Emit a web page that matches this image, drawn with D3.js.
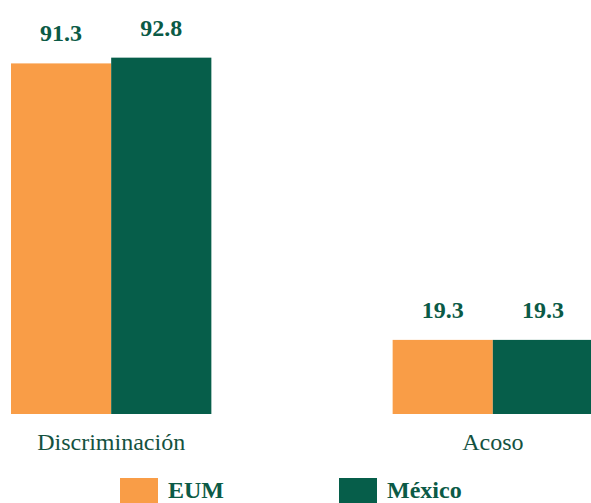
<!DOCTYPE html>
<html>
  <head>
    <meta charset="utf-8">
    <style>
    body { margin: 0; background: #fff; }
    </style>
    <script src="https://d3js.org/d3.v7.min.js"></script>
  </head>
  <body>
    <svg></svg>
    <script>
      var categories = ["Discriminación", "Acoso"];
      var seriesNames = ["EUM", "México"];
      var eumValues = [91.3, 19.3];
      var mexicoValues = [92.8, 19.3];
      var colors = ["#F99D47", "#065E4A"];

      var serif = "'Liberation Serif', 'Times New Roman', Times, serif";
      var width = 591, height = 503;
      var svg = d3.select("svg").attr("width", width).attr("height", height);

      var data = categories.map(function(c, i) {
        return { cat: c, values: [eumValues[i], mexicoValues[i]] };
      });

      var x0 = d3.scaleBand().domain(categories).range([11, 593]).paddingInner(0.475).paddingOuter(0);
      var x1 = d3.scaleBand().domain(seriesNames).range([0, x0.bandwidth()]);
      var y = d3.scaleLinear().domain([0, 100]).range([414, 30]);

      var groups = svg.selectAll("g.grp")
        .data(data)
        .enter().append("g")
          .attr("class", "grp")
          .attr("transform", function(d) { return "translate(" + x0(d.cat) + ",0)"; });

      groups.selectAll("rect")
        .data(function(d) { return d.values.map(function(v, i) { return { name: seriesNames[i], v: v, i: i }; }); })
        .enter().append("rect")
          .attr("x", function(d) { return x1(d.name); })
          .attr("y", function(d) { return y(d.v); })
          .attr("width", x1.bandwidth())
          .attr("height", function(d) { return y(0) - y(d.v); })
          .attr("fill", function(d) { return colors[d.i]; });

      groups.selectAll("text.val")
        .data(function(d) { return d.values.map(function(v, i) { return { name: seriesNames[i], v: v }; }); })
        .enter().append("text")
          .attr("class", "val")
          .attr("x", function(d) { return x1(d.name) + x1.bandwidth() / 2; })
          .attr("y", function(d) { return y(d.v) - 22; })
          .attr("text-anchor", "middle")
          .style("font-family", serif)
          .style("font-size", "24px")
          .style("font-weight", "bold")
          .attr("fill", "#0B5A46")
          .text(function(d) { return d.v.toFixed(1); });

      // category labels
      var xAxis = d3.axisBottom(x0).tickSize(0).tickPadding(0);
      var ax = svg.append("g").attr("transform", "translate(0,433)").call(xAxis);
      ax.select(".domain").remove();
      ax.attr("font-family", null).attr("font-size", null);
      ax.selectAll("text")
        .style("font-family", serif)
        .style("font-size", "24px")
        .attr("fill", "#14523F");

      // legend
      var legendX = [120, 339];
      var legend = svg.selectAll("g.leg")
        .data(seriesNames)
        .enter().append("g")
          .attr("class", "leg")
          .attr("transform", function(d, i) { return "translate(" + legendX[i] + ",478)"; });
      legend.append("rect")
        .attr("width", 38)
        .attr("height", 25)
        .attr("fill", function(d, i) { return colors[i]; });
      legend.append("text")
        .attr("x", 48)
        .attr("y", 20)
        .style("font-family", serif)
        .style("font-size", "24px")
        .style("font-weight", "bold")
        .attr("fill", "#0B5A46")
        .text(function(d) { return d; });
    </script>
  </body>
</html>
